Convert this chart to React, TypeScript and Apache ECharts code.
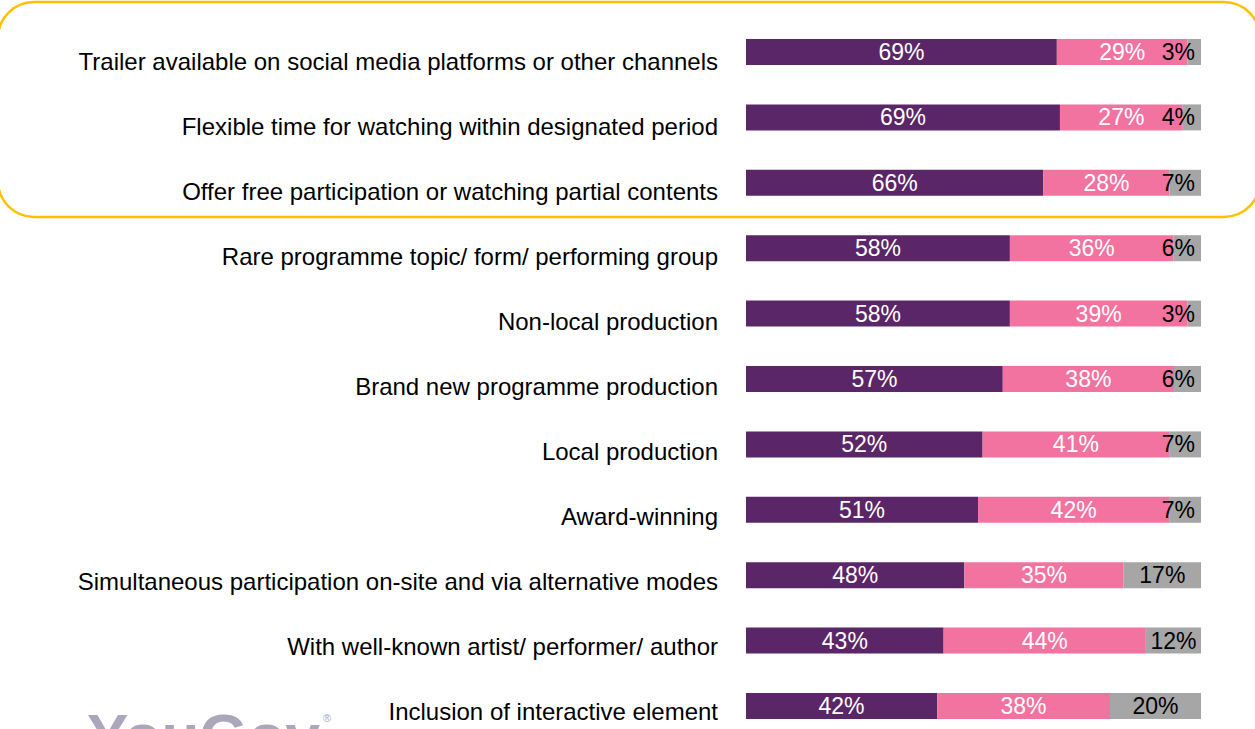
import React, { useEffect, useRef } from "react";
import * as echarts from "echarts";

const categories = [
  "Trailer available on social media platforms or other channels",
  "Flexible time for watching within designated period",
  "Offer free participation or watching partial contents",
  "Rare programme topic/ form/ performing group",
  "Non-local production",
  "Brand new programme production",
  "Local production",
  "Award-winning",
  "Simultaneous participation on-site and via alternative modes",
  "With well-known artist/ performer/ author",
  "Inclusion of interactive element",
];
const purpleValues = [69, 69, 66, 58, 58, 57, 52, 51, 48, 43, 42];
const pinkValues = [29, 27, 28, 36, 39, 38, 41, 42, 35, 44, 38];
const grayValues = [3, 4, 7, 6, 3, 6, 7, 7, 17, 12, 20];

const FONT = "'Liberation Sans', Arial, sans-serif";

export default function App() {
  const ref = useRef<HTMLDivElement>(null);
  useEffect(() => {
    if (!ref.current) return;
    const chart = echarts.init(ref.current, undefined, { renderer: "svg" });
    const totals = purpleValues.map((v, i) => v + pinkValues[i] + grayValues[i]);
    const mk = (name: string, arr: number[], color: string, textColor: string, smallRight: boolean) => ({
      name,
      type: "bar",
      stack: "all",
      barWidth: 26,
      xAxisIndex: 0,
      yAxisIndex: 0,
      itemStyle: { color },
      data: arr.map((v, i) => ({
        value: (v / totals[i]) * 100,
        label:
          smallRight && v < 10
            ? { position: "insideRight", distance: 6 }
            : { position: "inside" },
      })),
      label: {
        show: true,
        color: textColor,
        fontSize: 23,
        fontFamily: FONT,
        formatter: (p: any) => `${arr[p.dataIndex]}%`,
      },
    });
    chart.setOption({
      animation: false,
      backgroundColor: "#ffffff",
      grid: [
        { left: 746, width: 455, top: 19.3, height: 719.4, containLabel: false },
        { left: 746, width: 455, top: 29.5, height: 714.5, containLabel: false },
      ],
      xAxis: [
        { type: "value", min: 0, max: 100, show: false, gridIndex: 0 },
        { type: "value", min: 0, max: 100, show: false, gridIndex: 1 },
      ],
      yAxis: [
        {
          type: "category",
          gridIndex: 0,
          data: categories,
          inverse: true,
          axisLine: { show: false },
          axisTick: { show: false },
          axisLabel: { show: false },
        },
        {
          type: "category",
          gridIndex: 1,
          data: categories,
          inverse: true,
          axisLine: { show: false },
          axisTick: { show: false },
          axisLabel: {
            color: "#000000",
            fontSize: 24,
            fontFamily: FONT,
            margin: 28,
          },
        },
      ],
      series: [
        mk("purple", purpleValues, "#5B2667", "#ffffff", false),
        mk("pink", pinkValues, "#F373A0", "#ffffff", false),
        mk("gray", grayValues, "#A6A6A6", "#000000", true),
      ],
      graphic: [
        {
          type: "rect",
          shape: { x: -2, y: 2, width: 1262, height: 215, r: 36 },
          style: { fill: "none", stroke: "#FFC000", lineWidth: 2.5 },
          silent: true,
        },
        {
          type: "text",
          x: 87,
          y: 704,
          style: {
            text: "YouGov",
            fill: "#ABA6BA",
            font: `bold 62px ${FONT}`,
            verticalAlign: "top",
          },
        },
        {
          type: "text",
          x: 323,
          y: 712,
          style: { text: "®", fill: "#ABA6BA", font: `11px ${FONT}`, verticalAlign: "top" },
        },
      ],
    });
    return () => chart.dispose();
  }, []);
  return (
    <div style={{ position: "fixed", left: 0, top: 0, width: 1255, height: 729, overflow: "hidden" }}>
      <div ref={ref} style={{ width: 1255, height: 760 }} />
    </div>
  );
}
